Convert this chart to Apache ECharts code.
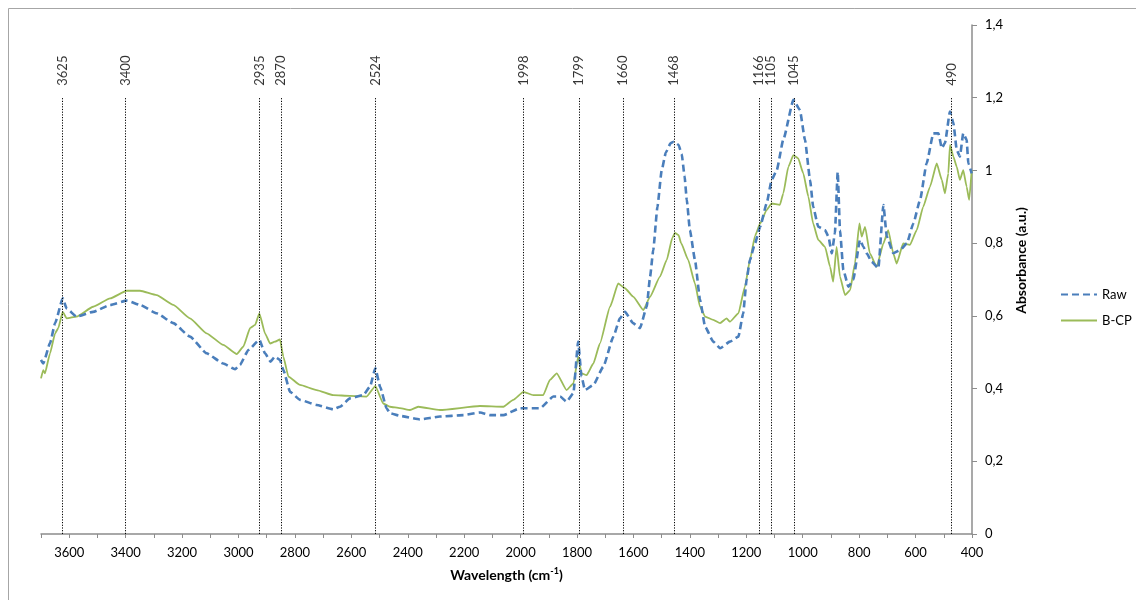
<!DOCTYPE html>
<html>
<head>
<meta charset="utf-8">
<script src="https://cdn.jsdelivr.net/npm/echarts@6/dist/echarts.min.js"></script>
<style>
html,body{margin:0;padding:0;background:#fff;}
#chart{width:1136px;height:600px;}
</style>
</head>
<body>
<div id="chart"></div>
<script>
// Raw spectrum: [wavenumber (cm-1), absorbance]
const rawSpectrum = [
[3700,0.479],[3692,0.469],[3668,0.525],[3650,0.58],[3623,0.648],[3609,0.62],[3574,0.598],[3515,0.611],
[3455,0.63],[3396,0.642],[3349,0.63],[3290,0.607],[3231,0.58],[3172,0.543],[3113,0.497],[3054,0.469],
[3012,0.453],[2995,0.465],[2965,0.506],[2926,0.534],[2906,0.497],[2886,0.474],[2871,0.488],[2853,0.479],
[2841,0.451],[2817,0.391],[2782,0.369],[2723,0.355],[2664,0.343],[2640,0.35],[2605,0.373],[2558,0.382],
[2534,0.405],[2515,0.456],[2498,0.405],[2475,0.346],[2463,0.332],[2428,0.325],[2357,0.315],[2286,0.323],
[2203,0.327],[2144,0.334],[2109,0.327],[2061,0.327],[2002,0.346],[1931,0.346],[1884,0.378],[1860,0.378],
[1837,0.364],[1813,0.387],[1796,0.529],[1784,0.433],[1772,0.396],[1742,0.41],[1707,0.46],[1671,0.543],
[1648,0.593],[1630,0.611],[1601,0.58],[1577,0.566],[1553,0.625],[1541,0.708],[1530,0.78],[1515,0.90],
[1500,1.00],[1485,1.05],[1468,1.075],[1457,1.079],[1440,1.07],[1429,1.045],[1419,0.985],[1411,0.919],[1400,0.836],[1382,0.754],
[1364,0.644],[1346,0.570],[1317,0.529],[1293,0.511],[1258,0.529],[1228,0.543],[1211,0.607],[1199,0.699],
[1187,0.754],[1169,0.80],[1151,0.845],[1128,0.909],[1110,0.974],[1092,1.001],[1069,1.084],[1033,1.194],
[1010,1.166],[992,1.084],[974,0.974],[963,0.9],[945,0.845],[921,0.836],[909,0.818],[897,0.772],
[886,0.827],[876,0.996],[868,0.836],[856,0.726],[838,0.680],[821,0.699],[797,0.809],[785,0.79],
[773,0.772],[756,0.749],[732,0.731],[714,0.905],[702,0.818],[679,0.772],[655,0.781],[631,0.799],
[608,0.854],[584,0.919],[561,1.019],[537,1.102],[519,1.102],[507,1.061],[496,1.075],[478,1.162],
[466,1.13],[454,1.056],[443,1.038],[431,1.102],[419,1.084],[413,1.019],[401,0.992]
];

// B-CP spectrum: [wavenumber (cm-1), absorbance]
const bcpSpectrum = [
[3700,0.428],[3692,0.451],[3686,0.442],[3668,0.497],[3650,0.552],[3639,0.566],[3623,0.611],[3609,0.593],
[3574,0.598],[3515,0.625],[3455,0.648],[3396,0.669],[3349,0.669],[3290,0.657],[3231,0.630],[3172,0.593],
[3113,0.552],[3054,0.520],[3006,0.495],[2983,0.515],[2959,0.566],[2941,0.575],[2926,0.607],[2906,0.552],
[2888,0.524],[2871,0.529],[2853,0.535],[2841,0.488],[2823,0.433],[2782,0.41],[2723,0.396],[2664,0.382],
[2605,0.38],[2546,0.378],[2515,0.407],[2487,0.359],[2463,0.35],[2428,0.346],[2392,0.341],[2363,0.35],
[2286,0.341],[2144,0.352],[2061,0.35],[2026,0.369],[1990,0.391],[1955,0.382],[1920,0.382],[1896,0.424],
[1872,0.442],[1837,0.396],[1813,0.414],[1796,0.488],[1784,0.442],[1766,0.437],[1742,0.469],[1719,0.524],
[1683,0.625],[1654,0.689],[1630,0.676],[1601,0.653],[1565,0.616],[1541,0.653],[1506,0.708],[1482,0.754],
[1462,0.815],[1453,0.828],[1440,0.822],[1431,0.80],[1406,0.754],[1382,0.689],[1364,0.625],[1346,0.598],[1317,0.589],[1293,0.58],
[1270,0.593],[1258,0.584],[1228,0.607],[1205,0.68],[1187,0.754],[1169,0.82],[1151,0.854],[1128,0.891],
[1110,0.909],[1081,0.905],[1069,0.937],[1051,1.01],[1033,1.042],[1016,1.033],[998,0.992],[980,0.928],
[963,0.854],[945,0.809],[921,0.79],[903,0.735],[892,0.694],[880,0.79],[868,0.708],[850,0.657],
[832,0.671],[815,0.744],[799,0.854],[791,0.818],[779,0.845],[762,0.772],[738,0.735],[714,0.799],
[697,0.836],[679,0.772],[667,0.744],[644,0.799],[620,0.795],[596,0.836],[573,0.9],[549,0.955],
[525,1.019],[507,0.974],[496,0.937],[484,0.992],[478,1.07],[466,1.038],[454,1.01],[443,0.974],
[431,1.001],[419,0.955],[410,0.919],[401,1.001]
];

// Marked band positions (where the dotted lines are drawn) and their labels
const bandPositions = [3623, 3400, 2926, 2849, 2515, 1990, 1793, 1636, 1457, 1154, 1113, 1030, 472];
const bandLabels    = ['3625','3400','2935','2870','2524','1998','1799','1660','1468','1166','1105','1045','490'];
const bandTop = 1.2;

const xTickLabels = [400,600,800,1000,1200,1400,1600,1800,2000,2200,2400,2600,2800,3000,3200,3400,3600];
const yTickLabels = ['0','0,2','0,4','0,6','0,8','1','1,2','1,4'];

const FONT = 'Lato, "Open Sans", sans-serif';

const chart = echarts.init(document.getElementById('chart'));
chart.setOption({
  animation: false,
  backgroundColor: '#fff',
  textStyle: { fontFamily: FONT },
  graphic: [{
    type: 'rect', silent: true,
    shape: { x: 8.5, y: 8.5, width: 1200, height: 700 },
    style: { fill: 'none', stroke: '#a6a6a6', lineWidth: 1 }
  }],
  grid: { left: 41, right: 164, top: 25, bottom: 66, containLabel: false },
  legend: {
    orient: 'vertical', left: 1055, top: 283, itemGap: 13,
    itemWidth: 36, itemHeight: 15,
    itemStyle: { opacity: 0 },
    textStyle: { fontFamily: FONT, fontSize: 13, color: '#000' },
    data: ['Raw', 'B-CP']
  },
  xAxis: {
    type: 'value', min: 400, max: 3700, interval: 100, inverse: true,
    name: '{b|Wavelength (cm}{s|-1}{b|)}',
    nameLocation: 'middle', nameGap: 33,
    nameTextStyle: {
      rich: {
        b: { fontFamily: FONT, fontWeight: 'bold', fontSize: 14, color: '#000', lineHeight: 17 },
        s: { fontFamily: FONT, fontWeight: 'bold', fontSize: 9, color: '#000', lineHeight: 17, verticalAlign: 'top', padding: [0, 0, 6, 0] }
      }
    },
    axisLine: { show: true, onZero: false, lineStyle: { color: '#8c8c8c', width: 1.5 } },
    axisTick: { show: true, inside: false, length: 4, lineStyle: { color: '#8c8c8c' } },
    axisLabel: {
      margin: 12, fontSize: 13, color: '#000', fontFamily: FONT,
      formatter: v => xTickLabels.indexOf(v) >= 0 ? String(v) : ''
    },
    splitLine: { show: false }
  },
  yAxis: {
    type: 'value', position: 'right', min: 0, max: 1.4, interval: 0.2,
    name: 'Absorbance (a.u.)', nameLocation: 'middle', nameGap: 42, nameRotate: 90,
    nameTextStyle: { fontFamily: FONT, fontWeight: 'bold', fontSize: 14, color: '#000', padding: [0, 0, 0, 38] },
    axisLine: { show: true, lineStyle: { color: '#8c8c8c', width: 1.5 } },
    axisTick: { show: true, inside: false, length: 5, lineStyle: { color: '#8c8c8c' } },
    axisLabel: {
      margin: 13, fontSize: 13, color: '#000', fontFamily: FONT,
      formatter: v => yTickLabels[Math.round(v / 0.2)]
    },
    splitLine: { show: false }
  },
  series: [
    {
      name: 'Raw', type: 'line', data: rawSpectrum, showSymbol: false, symbol: 'none',
      smooth: 0.15, smoothMonotone: 'x', color: '#4A7EBB',
      lineStyle: { color: '#4A7EBB', width: 2.6, type: [7, 4] },
      z: 3
    },
    {
      name: 'B-CP', type: 'line', data: bcpSpectrum, showSymbol: false, symbol: 'none',
      smooth: 0.15, smoothMonotone: 'x', color: '#9BBB59',
      lineStyle: { color: '#9BBB59', width: 1.8 },
      z: 2
    },
    {
      name: 'bands', type: 'scatter', silent: true, symbolSize: 0, z: 4,
      data: bandPositions.map((p, i) => [p, bandTop, bandLabels[i]]),
      label: {
        show: true, position: 'top', distance: 12, rotate: 90,
        align: 'left', verticalAlign: 'middle',
        fontFamily: FONT, fontSize: 13, color: '#000',
        formatter: p => p.data[2]
      },
      markLine: {
        silent: true, symbol: 'none', animation: false,
        label: { show: false },
        lineStyle: { color: '#000', type: [1.2, 1.5], width: 1 },
        data: bandPositions.map(p => [{ coord: [p, 0] }, { coord: [p, bandTop] }])
      }
    }
  ]
});
</script>
</body>
</html>
